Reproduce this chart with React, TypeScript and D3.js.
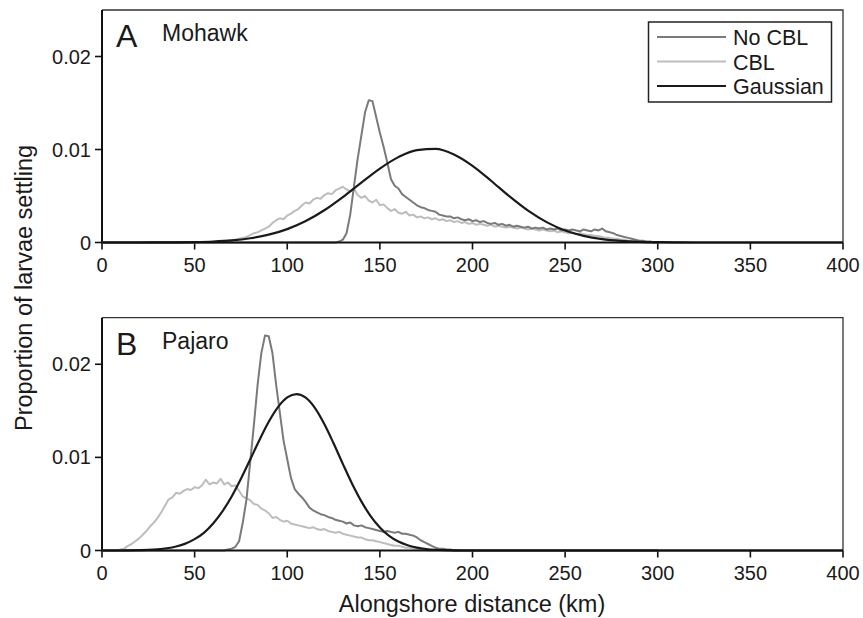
import React from "react";
import * as d3 from "d3";

// ---------- data ----------
const xTicks = [0, 50, 100, 150, 200, 250, 300, 350, 400];
const yTicks = [0, 0.01, 0.02];
const yTickLabels = ["0", "0.01", "0.02"];
const seriesNames = ["No CBL", "CBL", "Gaussian"];

const STEP = 2; // km between histogram bins

// Panel A (Mohawk)
const mohawkNoCblStart = 126;
const mohawkNoCbl = [
  0, 0.0001, 0.0003, 0.001, 0.003, 0.006, 0.009, 0.0115, 0.014, 0.0153,
  0.0152, 0.0135, 0.0118, 0.0103, 0.0086, 0.0068, 0.0061, 0.0058, 0.0052, 0.0049,
  0.0046, 0.0043, 0.004, 0.0038, 0.0037, 0.0035, 0.0034, 0.0033, 0.003, 0.0029,
  0.0028, 0.0028, 0.0026, 0.0027, 0.0025, 0.0024, 0.0025, 0.0023, 0.0024, 0.0022,
  0.0023, 0.0021, 0.002, 0.0021, 0.0019, 0.002, 0.0018, 0.0019, 0.0017, 0.0018,
  0.0017, 0.0016, 0.0017, 0.0015, 0.0016, 0.0015, 0.0016, 0.0014, 0.0015, 0.0014,
  0.0015, 0.0013, 0.0014, 0.0013, 0.0014, 0.0013, 0.0012, 0.0014, 0.0013, 0.0012,
  0.0014, 0.0013, 0.0015, 0.0012, 0.0011, 0.001, 0.0008, 0.0007, 0.0006, 0.0005,
  0.0004, 0.0003, 0.0002, 0.0002, 0.0001, 0.0001, 0, 0,
];
const mohawkCblStart = 60;
const mohawkCbl = [
  0, 0.0001, 0.0001, 0.0001, 0.0002, 0.0002, 0.0003, 0.0004, 0.0005, 0.0006,
  0.0008, 0.001, 0.0011, 0.0013, 0.0015, 0.0017, 0.0021, 0.0024, 0.0026, 0.0025,
  0.0029, 0.0031, 0.0034, 0.0036, 0.004, 0.0043, 0.0042, 0.0046, 0.0048, 0.0047,
  0.0051, 0.0053, 0.0052, 0.0056, 0.0058, 0.006, 0.0057, 0.0055, 0.0058, 0.0051,
  0.0048, 0.005, 0.0045, 0.0043, 0.0046, 0.004, 0.0041, 0.0037, 0.0034, 0.0036,
  0.0032, 0.0031, 0.0033, 0.0029, 0.003, 0.0027, 0.0028, 0.0026, 0.0027, 0.0025,
  0.0026, 0.0024, 0.0025, 0.0023, 0.0024, 0.0022, 0.0023, 0.0021, 0.0022, 0.002,
  0.0021, 0.0019, 0.002, 0.0019, 0.0018, 0.0019, 0.0017, 0.0018, 0.0017, 0.0016,
  0.0017, 0.0016, 0.0015, 0.0016, 0.0015, 0.0014, 0.0015, 0.0014, 0.0013, 0.0014,
  0.0013, 0.0012, 0.0013, 0.0011, 0.0012, 0.0011, 0.001, 0.0011, 0.0009, 0.001,
  0.0009, 0.0008, 0.0008, 0.0007, 0.0007, 0.0006, 0.0005, 0.0005, 0.0004, 0.0004,
  0.0003, 0.0003, 0.0002, 0.0002, 0.0001, 0.0001, 0.0001, 0, 0,
];
const mohawkGaussKm = [
  0, 10, 20, 30, 40, 50, 60, 70, 80, 90, 100, 110, 120, 130, 140, 150, 160, 170,
  180, 190, 200, 210, 220, 230, 240, 250, 260, 270, 280, 290, 300, 310, 320, 400,
];
const mohawkGauss = [
  0, 0, 0, 0.00001, 0.00002, 0.00005, 0.00011, 0.00023, 0.00046, 0.00084, 0.00144,
  0.00231, 0.00347, 0.00489, 0.00644, 0.00795, 0.00918, 0.00994, 0.01006, 0.00946,
  0.00824, 0.00664, 0.00495, 0.00342, 0.00219, 0.00129, 0.00071, 0.00036, 0.00017,
  0.00007, 0.00003, 0.00001, 0, 0,
];

// Panel B (Pajaro)
const pajaroNoCblStart = 66;
const pajaroNoCbl = [
  0, 0.0001, 0.0002, 0.0004, 0.001, 0.003, 0.0055, 0.0095, 0.0135, 0.0178,
  0.0212, 0.0231, 0.023, 0.0212, 0.0178, 0.0148, 0.0118, 0.0098, 0.0078, 0.0066,
  0.0061, 0.0057, 0.0052, 0.0046, 0.0043, 0.0041, 0.0039, 0.0038, 0.0036, 0.0035,
  0.0033, 0.0032, 0.0031, 0.0029, 0.003, 0.0027, 0.0026, 0.0027, 0.0025, 0.0024,
  0.0023, 0.0022, 0.0021, 0.002, 0.0021, 0.002, 0.0019, 0.002, 0.0018, 0.0018,
  0.0017, 0.0016, 0.0014, 0.0011, 0.0009, 0.0007, 0.0005, 0.0003, 0.0002, 0.0002,
  0.0001, 0.0001, 0, 0,
];
const pajaroCblStart = 8;
const pajaroCbl = [
  0, 0.0001, 0.0002, 0.0005, 0.0007, 0.001, 0.0013, 0.0017, 0.0021, 0.0026,
  0.003, 0.0035, 0.0041, 0.0048, 0.0055, 0.0057, 0.0062, 0.0061, 0.0064, 0.0066,
  0.0065, 0.0068, 0.0067, 0.007, 0.0076, 0.0071, 0.0073, 0.0072, 0.0077, 0.0071,
  0.0073, 0.0069, 0.007, 0.0064, 0.0058, 0.0056, 0.0054, 0.005, 0.0049, 0.0045,
  0.0043, 0.004, 0.0035, 0.0036, 0.0033, 0.0031, 0.0032, 0.0029, 0.0028, 0.0027,
  0.0026, 0.0025, 0.0024, 0.0025, 0.0023, 0.0022, 0.0023, 0.0021, 0.002, 0.0019,
  0.002, 0.0018, 0.0017, 0.0016, 0.0015, 0.0014, 0.0014, 0.0012, 0.0011, 0.0011,
  0.001, 0.0009, 0.0008, 0.0007, 0.0006, 0.0005, 0.0005, 0.0004, 0.0003, 0.0003,
  0.0002, 0.0002, 0.0001, 0.0001, 0, 0,
];
const pajaroGaussKm = [
  0, 10, 20, 25, 30, 35, 40, 45, 50, 55, 60, 65, 70, 75, 80, 85, 90, 95, 100, 105,
  110, 115, 120, 125, 130, 135, 140, 145, 150, 155, 160, 165, 170, 175, 180, 185,
  190, 200, 400,
];
const pajaroGauss = [
  0, 0, 0.00003, 0.00006, 0.00013, 0.00024, 0.00043, 0.00074, 0.00122, 0.0019,
  0.0029, 0.0042, 0.0058, 0.0077, 0.00977, 0.01187, 0.01382, 0.0154, 0.01644,
  0.0168, 0.01641, 0.01529, 0.01358, 0.01151, 0.0093, 0.00717, 0.00528, 0.0037,
  0.00248, 0.00158, 0.00096, 0.00056, 0.00031, 0.00016, 0.00008, 0.00004, 0.00002,
  0, 0,
];

// ---------- helpers ----------
type Pt = [number, number];
const binned = (start: number, vals: number[], endKm: number): Pt[] => {
  const pts: Pt[] = [[0, 0]];
  vals.forEach((v, i) => pts.push([start + i * STEP, v]));
  pts.push([endKm, 0]);
  return pts;
};
const paired = (km: number[], vals: number[]): Pt[] => km.map((k, i) => [k, vals[i]]);

const W = 863;
const H = 618;
const L = 102;
const R = 843;
const FONT = "'Liberation Sans', Arial, Helvetica, sans-serif";
const TXT = "#1a1a1a";
const COLORS = ["#7a7a7a", "#bdbdbd", "#1a1a1a"];

const x = d3.scaleLinear().domain([0, 400]).range([L, R]);

interface PanelProps {
  top: number;
  bottom: number;
  letter: string;
  name: string;
  noCbl: Pt[];
  cbl: Pt[];
  gauss: Pt[];
  legend?: boolean;
}

const Panel = ({ top, bottom, letter, name, noCbl, cbl, gauss, legend }: PanelProps) => {
  const y = d3.scaleLinear().domain([0, 0.025]).range([bottom, top]);
  const noisy = d3
    .line<Pt>()
    .x((d) => x(d[0]))
    .y((d) => y(d[1]));
  const smooth = d3
    .line<Pt>()
    .x((d) => x(d[0]))
    .y((d) => y(d[1]))
    .curve(d3.curveMonotoneX);
  return (
    <g>
      {/* top and right frame */}
      <path d={`M${L},${top}H${R}V${bottom}`} fill="none" stroke="#333" strokeWidth={1.3} />
      {/* axes */}
      <line x1={L} x2={L} y1={top} y2={bottom} stroke="#111" strokeWidth={2} />
      {xTicks.map((t) => (
        <g key={t}>
          <line x1={x(t)} x2={x(t)} y1={bottom} y2={bottom + 7} stroke="#111" strokeWidth={1.6} />
          <text
            x={x(t)}
            y={bottom + 29}
            textAnchor="middle"
            fontSize={20}
            fontFamily={FONT}
            fill={TXT}
          >
            {t}
          </text>
        </g>
      ))}
      {yTicks.map((t, i) => (
        <g key={t}>
          <line x1={L - 7} x2={L} y1={y(t)} y2={y(t)} stroke="#111" strokeWidth={1.6} />
          <text
            x={L - 11}
            y={y(t) + 7}
            textAnchor="end"
            fontSize={20}
            fontFamily={FONT}
            fill={TXT}
          >
            {yTickLabels[i]}
          </text>
        </g>
      ))}
      {/* curves */}
      <path d={noisy(cbl) || ""} fill="none" stroke={COLORS[1]} strokeWidth={2} strokeLinejoin="round" />
      <path d={noisy(noCbl) || ""} fill="none" stroke={COLORS[0]} strokeWidth={2} strokeLinejoin="round" />
      <path d={smooth(gauss) || ""} fill="none" stroke={COLORS[2]} strokeWidth={2.2} />
      <line x1={L - 1} x2={R} y1={bottom} y2={bottom} stroke="#111" strokeWidth={2} />
      <path d={noisy(cbl.filter((d) => d[1] > 0 || d[0] > 150)) || ""} fill="none" stroke={COLORS[1]} strokeWidth={1.2} opacity={0} />
      {/* panel labels */}
      <text x={116} y={top + 37} fontSize={32} fontFamily={FONT} fill={TXT}>
        {letter}
      </text>
      <text x={162} y={top + 31} fontSize={23} fontFamily={FONT} fill={TXT}>
        {name}
      </text>
      {legend && (
        <g>
          <rect x={648.5} y={22} width={183} height={80} fill="white" stroke="#222" strokeWidth={1.5} />
          {seriesNames.map((s, i) => (
            <g key={s}>
              <line
                x1={657}
                x2={726}
                y1={37 + i * 24.5}
                y2={37 + i * 24.5}
                stroke={COLORS[i]}
                strokeWidth={2.2}
              />
              <text x={733} y={37 + i * 24.5 + 8} fontSize={21.5} fontFamily={FONT} fill={TXT}>
                {s}
              </text>
            </g>
          ))}
        </g>
      )}
    </g>
  );
};

export default function App() {
  return (
    <svg
      width={W}
      height={H}
      viewBox={`0 0 ${W} ${H}`}
      style={{ position: "absolute", left: 0, top: 0, background: "white" }}
    >
      <rect width={W} height={H} fill="white" />
      <Panel
        top={10}
        bottom={242.5}
        letter="A"
        name="Mohawk"
        noCbl={binned(mohawkNoCblStart, mohawkNoCbl, 300)}
        cbl={binned(mohawkCblStart, mohawkCbl, 300)}
        gauss={paired(mohawkGaussKm, mohawkGauss)}
        legend
      />
      <Panel
        top={317.7}
        bottom={550.5}
        letter="B"
        name="Pajaro"
        noCbl={binned(pajaroNoCblStart, pajaroNoCbl, 300)}
        cbl={binned(pajaroCblStart, pajaroCbl, 300)}
        gauss={paired(pajaroGaussKm, pajaroGauss)}
      />
      <text
        transform={`translate(32,288) rotate(-90)`}
        textAnchor="middle"
        fontSize={23.5}
        fontFamily={FONT}
        fill={TXT}
      >
        Proportion of larvae settling
      </text>
      <text x={472} y={612} textAnchor="middle" fontSize={23.5} fontFamily={FONT} fill={TXT}>
        Alongshore distance (km)
      </text>
    </svg>
  );
}
